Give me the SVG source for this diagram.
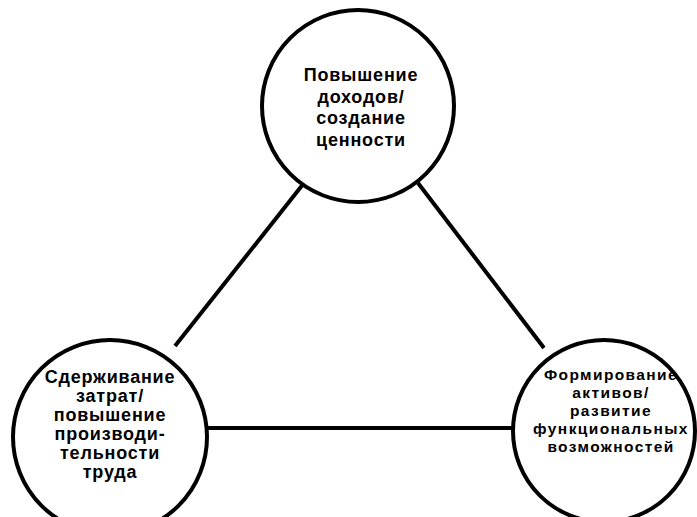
<svg xmlns="http://www.w3.org/2000/svg" width="697" height="517" viewBox="0 0 697 517">
<style>
.c{fill:#fff;stroke:#000;stroke-width:4}
.l{stroke:#000;stroke-width:4;fill:none}
text{font-family:"Liberation Sans",Arial,sans-serif;font-weight:bold;font-size:18px;letter-spacing:0.8px;text-anchor:middle;fill:#000}
text.s{font-size:15.5px;letter-spacing:1.4px}
</style>
<rect width="697" height="517" fill="#fff"/>
<g id="connectors">
<line class="l" x1="304" y1="183" x2="175" y2="346"/>
<line class="l" x1="418" y1="183" x2="544" y2="348"/>
<line class="l" x1="206" y1="428" x2="513" y2="428"/>
</g>
<g id="node-top">
<circle class="c" cx="358" cy="106" r="96"/>
<text x="361" y="81">Повышение</text>
<text x="361" y="102.5">доходов/</text>
<text x="361" y="124">создание</text>
<text x="361" y="145.5">ценности</text>
</g>
<g id="node-left">
<circle class="c" cx="110" cy="437" r="97"/>
<text x="110" y="383">Сдерживание</text>
<text x="110" y="402">затрат/</text>
<text x="110" y="421">повышение</text>
<text x="110" y="440">производи-</text>
<text x="110" y="459">тельности</text>
<text x="110" y="478">труда</text>
</g>
<g id="node-right">
<circle class="c" cx="604" cy="431" r="91"/>
<text class="s" x="611" y="380">Формирование</text>
<text class="s" x="611" y="398">активов/</text>
<text class="s" x="611" y="416">развитие</text>
<text class="s" x="611" y="434">функциональных</text>
<text class="s" x="611" y="452">возможностей</text>
</g>
</svg>
